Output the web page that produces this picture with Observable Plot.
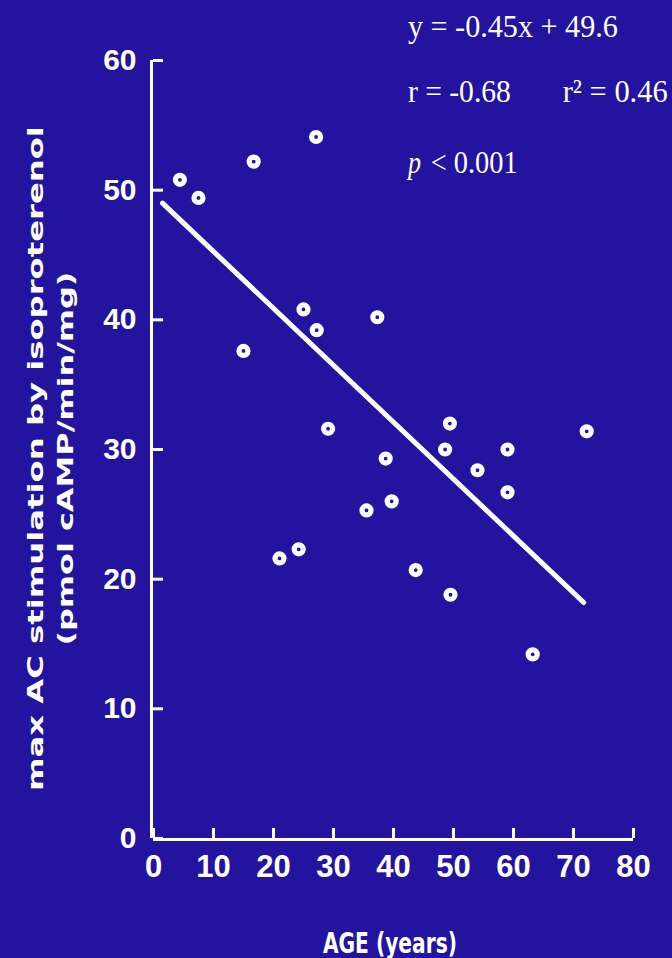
<!DOCTYPE html>
<html>
<head>
<meta charset="utf-8">
<script src="https://cdn.jsdelivr.net/npm/d3@7"></script>
<script src="https://cdn.jsdelivr.net/npm/@observablehq/plot@0.6"></script>
<style>
  html, body { margin: 0; padding: 0; background: #22149e; }
  #chart svg { display: block; overflow: visible; }
</style>
</head>
<body>
<div id="chart"></div>
<script>
// Data
const age   = [4.4, 7.5, 16.7, 27.1, 15.0, 25.0, 27.2, 37.3, 29.1, 21.0, 24.2, 35.5, 39.7, 38.7, 43.7, 49.4, 48.6, 49.5, 54.0, 59.0, 59.0, 63.2, 72.2];
const acMax = [50.8, 49.4, 52.2, 54.1, 37.6, 40.8, 39.2, 40.2, 31.6, 21.6, 22.3, 25.3, 26.0, 29.3, 20.7, 32.0, 30.0, 18.8, 28.4, 30.0, 26.7, 14.2, 31.4];
const fitAge = [1.5, 71.7];
const fitAc  = [49.0, 18.2];
const xTicks = [0, 10, 20, 30, 40, 50, 60, 70, 80];
const yTicks = [0, 10, 20, 30, 40, 50, 60];
const xTitle = "AGE (years)";
const yTitleLines = ["max AC stimulation by isoproterenol", "(pmol cAMP/min/mg)"];
const eqText = "y = -0.45x + 49.6";
const rText = "r = -0.68";
const r2Text = "r\u00B2 = 0.46";
const pSymbol = "p";
const pText = "< 0.001";

const BG = "#22149e";
const points = age.map((a, i) => ({age: a, ac: acMax[i]}));
const fit = fitAge.map((a, i) => ({age: a, ac: fitAc[i]}));

const sans = "'DejaVu Sans', sans-serif";
const narrow = "'Liberation Sans Narrow', sans-serif";
const serif = "'Liberation Serif', 'DejaVu Serif', serif";

const plot = Plot.plot({
  width: 672,
  height: 958,
  marginLeft: 153,
  marginRight: 39,
  marginTop: 60,
  marginBottom: 120,
  style: {background: BG, color: "white", overflow: "visible"},
  x: {domain: [0, 80]},
  y: {domain: [0, 60]},
  marks: [
    Plot.axisX({ticks: xTicks, tickSize: -10, tickPadding: 26, strokeWidth: 3, label: null,
      fontSize: 31, fontWeight: "bold", fontFamily: narrow, fill: "white"}),
    Plot.axisY({ticks: yTicks, tickSize: -10, tickPadding: 27, strokeWidth: 3, label: null,
      fontSize: 30, fontWeight: "bold", fontFamily: narrow, fill: "white"}),
    Plot.ruleX([0], {stroke: "white", strokeWidth: 3, dx: -2}),
    Plot.ruleY([0], {stroke: "white", strokeWidth: 3, dy: 1, x1: 0, x2: 80}),
    Plot.line(fit, {x: "age", y: "ac", stroke: "white", strokeWidth: 5, strokeLinecap: "round"}),
    Plot.dot(points, {x: "age", y: "ac", r: 4.5, fill: BG, stroke: "white", strokeWidth: 5.2}),
    // Axis titles
    Plot.text([xTitle], {x: 39.4, y: -8.1, text: d => d, fill: "white", fontSize: 29, fontWeight: "bold",
      fontFamily: sans, className: "xtitle"}),
    Plot.text([yTitleLines[0]], {x: -19.6, y: 29.3, text: d => d, rotate: -90, fill: "white", fontSize: 22,
      fontWeight: "bold", fontFamily: sans, className: "ytitle1"}),
    Plot.text([yTitleLines[1]], {x: -14.6, y: 29.3, text: d => d, rotate: -90, fill: "white", fontSize: 22,
      fontWeight: "bold", fontFamily: sans, className: "ytitle2"}),
    // Statistics annotation
    Plot.text([eqText], {x: 42.4, y: 62.6, text: d => d, textAnchor: "start", fill: "white", fontSize: 32,
      fontFamily: serif, className: "eq"}),
    Plot.text([rText], {x: 42.4, y: 57.6, text: d => d, textAnchor: "start", fill: "white", fontSize: 32,
      fontFamily: serif, className: "rtxt"}),
    Plot.text([r2Text], {x: 68.2, y: 57.6, text: d => d, textAnchor: "start", fill: "white", fontSize: 32,
      fontFamily: serif, className: "r2txt"}),
    Plot.text([pSymbol], {x: 42.4, y: 52.1, text: d => d, textAnchor: "start", fill: "white", fontSize: 32,
      fontFamily: serif, fontStyle: "italic", className: "psym"}),
    Plot.text([pText], {x: 46.2, y: 52.1, text: d => d, textAnchor: "start", fill: "white", fontSize: 32,
      fontFamily: serif, className: "ptxt"})
  ]
});

document.getElementById("chart").appendChild(plot);

const svg = d3.select(plot);
const fit2 = (cls, len) => svg.selectAll("." + cls + " text")
  .attr("textLength", len).attr("lengthAdjust", "spacingAndGlyphs");
fit2("xtitle", 134);
fit2("ytitle1", 665);
fit2("ytitle2", 374);
fit2("eq", 210);
fit2("rtxt", 103);
fit2("r2txt", 105);
fit2("psym", 13);
fit2("ptxt", 87);
</script>
</body>
</html>
